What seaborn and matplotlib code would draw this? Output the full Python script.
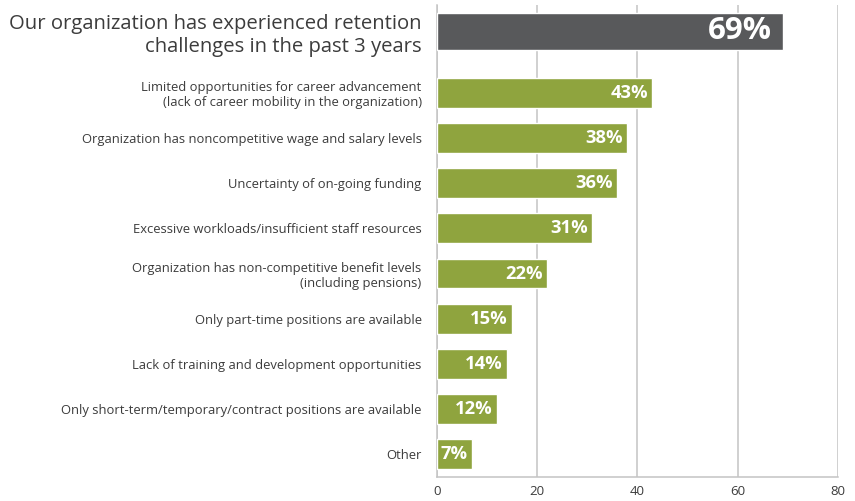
"""Retention challenges - horizontal bar chart"""
import matplotlib.pyplot as plt
import seaborn as sns

headline = "Our organization has experienced retention\nchallenges in the past 3 years"
headline_value = 69

reasons = [
    "Limited opportunities for career advancement\n(lack of career mobility in the organization)",
    "Organization has noncompetitive wage and salary levels",
    "Uncertainty of on-going funding",
    "Excessive workloads/insufficient staff resources",
    "Organization has non-competitive benefit levels\n(including pensions)",
    "Only part-time positions are available",
    "Lack of training and development opportunities",
    "Only short-term/temporary/contract positions are available",
    "Other",
]
values = [43, 38, 36, 31, 22, 15, 14, 12, 7]
x_ticks = [0, 20, 40, 60, 80]

GREEN = "#8fa43e"
DARK = "#58595b"
GRID = "#c4c4c4"
TEXT = "#3c3c3c"

sns.set_style("white")
plt.rcParams["font.family"] = ["Open Sans", "DejaVu Sans"]

fig = plt.figure(figsize=(8.55, 5.01), dpi=100)
ax = fig.add_axes([0.511, 0.048, 0.469, 0.942])

# reasons listed top to bottom, headline sits above with extra room
pos = list(range(len(reasons) - 1, -1, -1))
head_pos = pos[0] + 1.36

sns.barplot(x=values, y=pos, orient="h", native_scale=True, width=0.66,
            color=GREEN, saturation=1, errorbar=None, ax=ax, zorder=3)
sns.barplot(x=[headline_value], y=[head_pos], orient="h", native_scale=True,
            width=0.82, color=DARK, saturation=1, errorbar=None, ax=ax, zorder=3)

for v, p in zip(values, pos):
    ax.annotate(f"{v}%", xy=(v, p), xytext=(-3, 0), textcoords="offset points",
                ha="right", va="center", color="white", fontweight="bold",
                fontsize=13.2, zorder=4)
ax.annotate(f"{headline_value}%", xy=(headline_value, head_pos), xytext=(-8, 0),
            textcoords="offset points", ha="right", va="center", color="white",
            fontweight="bold", fontsize=22.5, zorder=4)

ax.set_xlim(0, 80)
ax.set_ylim(pos[-1] - 0.49, pos[0] + 1.94)
ax.set_xticks(x_ticks)
ax.set_xticklabels([str(t) for t in x_ticks], fontsize=9.5, color=TEXT)
ax.set_yticks(pos + [head_pos])
labels = ax.set_yticklabels(reasons + [headline], color=TEXT, fontsize=9.4)
labels[-1].set_fontsize(14.6)
ax.tick_params(axis="y", length=0, pad=11)
ax.tick_params(axis="x", length=4, color=GRID, width=1.1, pad=1.5)

bounds = [p + 0.5 for p in pos] + [pos[-1] - 0.5, pos[0] + 0.93, pos[0] + 1.94]
ax.set_yticks(bounds, minor=True)
ax.tick_params(axis="y", which="minor", length=4, color=GRID, width=1.1)

ax.xaxis.grid(True, color=GRID, linewidth=1.1, zorder=0)
ax.set_axisbelow(True)
for side in ["top", "right"]:
    ax.spines[side].set_visible(False)
for side in ["left", "bottom"]:
    ax.spines[side].set_color(GRID)
    ax.spines[side].set_linewidth(1.1)
ax.set_xlabel("")
ax.set_ylabel("")

fig.savefig("out.png", dpi=100)
plt.close(fig)
